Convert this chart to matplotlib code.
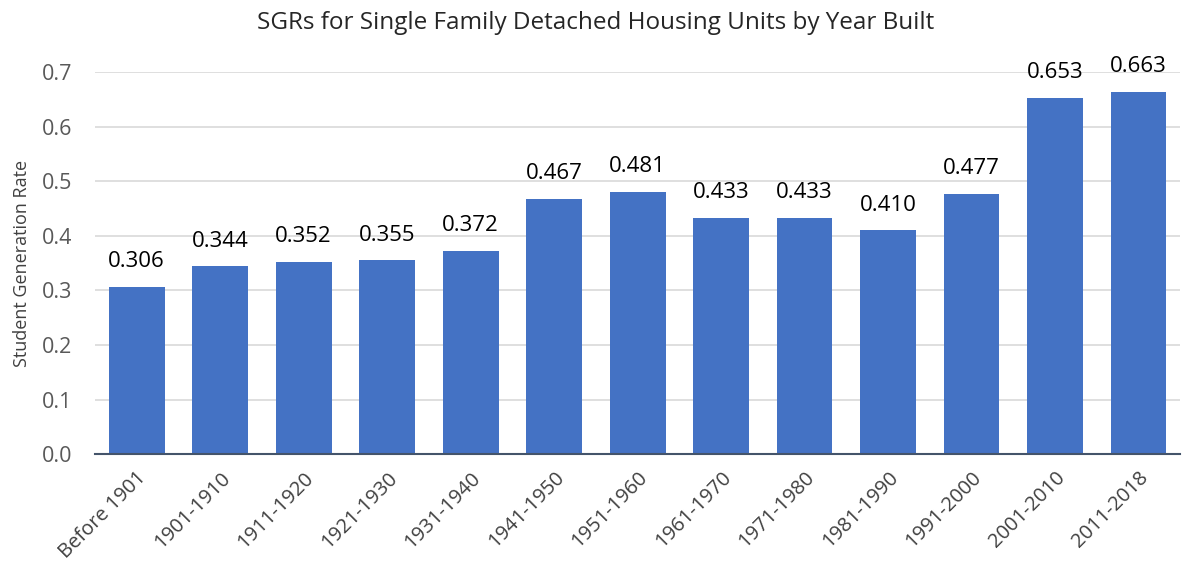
import matplotlib.pyplot as plt

plt.rcParams['font.family'] = ['Open Sans', 'DejaVu Sans']

periods = ['Before 1901', '1901-1910', '1911-1920', '1921-1930', '1931-1940',
           '1941-1950', '1951-1960', '1961-1970', '1971-1980', '1981-1990',
           '1991-2000', '2001-2010', '2011-2018']
sgr = [0.306, 0.344, 0.352, 0.355, 0.372, 0.467, 0.481,
       0.433, 0.433, 0.410, 0.477, 0.653, 0.663]

fig = plt.figure(figsize=(11.85, 5.67), dpi=100)
ax = fig.add_axes([0.080, 0.199, 0.916, 0.674])

x = range(len(periods))
bars = ax.bar(x, sgr, width=0.67, color='#4472C4', zorder=3)

# value labels above each bar
for b, v in zip(bars, sgr):
    ax.text(b.get_x() + b.get_width() / 2, v + 0.027, f'{v:.3f}',
            ha='center', va='bottom', fontsize=16, color='black')

ax.set_xlim(-0.5, len(periods) - 0.5)
ax.set_ylim(0, 0.7)
ax.set_yticks([i / 10 for i in range(8)])
ax.set_yticklabels([f'{i / 10:.1f}' for i in range(8)], fontsize=15.5, color='#595959')
ax.set_xticks(list(x))
ax.set_xticklabels(periods, rotation=45, ha='right', rotation_mode='anchor',
                   fontsize=14.5, color='#404040')
ax.tick_params(axis='y', length=0, pad=16)
ax.tick_params(axis='x', length=0, pad=10)

ax.yaxis.grid(True, color='#D9D9D9', linewidth=1.2, zorder=0)
for side in ['top', 'right', 'left']:
    ax.spines[side].set_visible(False)
ax.spines['bottom'].set_color('#44546A')
ax.spines['bottom'].set_linewidth(1.5)
ax.spines['bottom'].set_zorder(4)

ax.set_ylabel('Student Generation Rate', fontsize=13, color='#404040', labelpad=8)
fig.suptitle('SGRs for Single Family Detached Housing Units by Year Built',
             fontsize=17.5, color='#262626', x=0.503, y=0.96, va='center')

fig.savefig('out.png', dpi=100)
